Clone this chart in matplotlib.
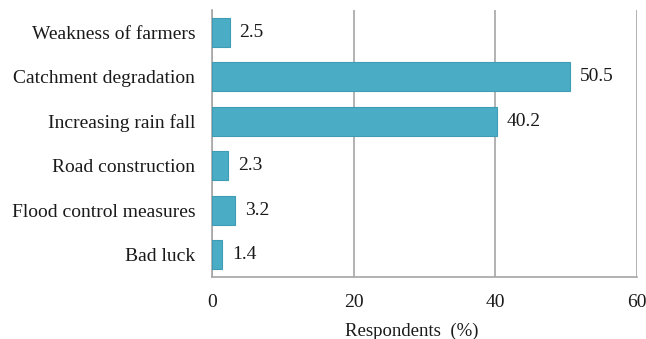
import matplotlib
matplotlib.use("Agg")
import matplotlib.pyplot as plt

categories = ["Weakness of farmers", "Catchment degradation", "Increasing rain fall",
              "Road construction", "Flood control measures", "Bad luck"]
values = [2.5, 50.5, 40.2, 2.3, 3.2, 1.4]
xticks = [0, 20, 40, 60]

plt.rcParams["font.family"] = ["Liberation Serif", "DejaVu Serif"]

fig = plt.figure(figsize=(6.46, 3.39), dpi=100)
ax = fig.add_axes([212 / 646, 1 - 277 / 339, (637 - 212) / 646, (277 - 10) / 339])

pos = list(range(len(categories)))
bars = ax.barh(pos, values, height=0.65, color="#4BACC6", edgecolor="#3e9cb5",
               linewidth=0.8, zorder=3)
ax.set_ylim(len(categories) - 0.5, -0.5)
ax.set_yticks(pos)
ax.set_yticklabels(categories, fontsize=14, color="#1a1a1a")
ax.set_xlim(0, 60)
ax.set_xticks(xticks)
ax.set_xticklabels([str(t) for t in xticks], fontsize=14, color="#1a1a1a")

for b, v in zip(bars, values):
    ax.text(b.get_width() + 1.4, b.get_y() + b.get_height() / 2, f"{v}",
            va="center", ha="left", fontsize=14, color="#1a1a1a")

ax.grid(axis="x", color="#a6a6a6", linewidth=1.2, zorder=0)
ax.tick_params(axis="both", length=0)
ax.tick_params(axis="y", pad=12)
ax.tick_params(axis="x", pad=12)
for s in ["top", "right"]:
    ax.spines[s].set_visible(False)
for s in ["left", "bottom"]:
    ax.spines[s].set_color("#a6a6a6")
    ax.spines[s].set_linewidth(1.2)

ax.set_xlabel("Respondents  (%)", fontsize=13.5, color="#1a1a1a")
ax.xaxis.set_label_coords(0.47, -0.17)

fig.savefig("out.png", dpi=100)
